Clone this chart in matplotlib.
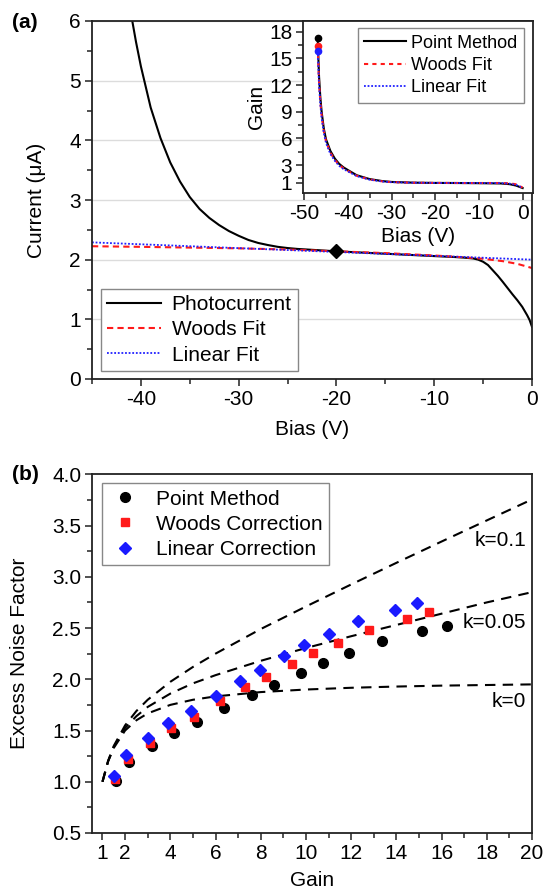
import numpy as np
import matplotlib
matplotlib.use('Agg')
import matplotlib.pyplot as plt
from matplotlib.ticker import MultipleLocator, FixedLocator, FormatStrFormatter

plt.rcParams['font.family'] = ['Liberation Sans', 'DejaVu Sans']
plt.rcParams['font.size'] = 15
plt.rcParams['axes.unicode_minus'] = False

# (a) photocurrent vs bias
bias_photo = [-41.0, -40.5, -40.0, -39.0, -38.0, -37.0, -36.0, -35.0, -34.0, -33.0, -32.0,
              -31.0, -30.0, -29.0, -28.0, -27.0, -26.0, -25.0, -24.0, -22.0, -20.0, -17.5,
              -15.0, -12.5, -10.0, -8.0, -7.0, -6.0, -5.5, -5.0, -4.5, -4.0, -3.5, -3.0,
              -2.5, -2.0, -1.5, -1.0, -0.5, -0.25, 0.0]
photocurrent = [6.11, 5.65, 5.24, 4.55, 4.04, 3.63, 3.31, 3.05, 2.85, 2.70, 2.58,
                2.48, 2.40, 2.33, 2.28, 2.245, 2.215, 2.195, 2.18, 2.16, 2.14, 2.12,
                2.10, 2.08, 2.06, 2.045, 2.035, 2.02, 2.00, 1.965, 1.91, 1.82, 1.73, 1.63,
                1.525, 1.42, 1.32, 1.21, 1.07, 0.99, 0.875]
bias_woods = [-45, -40, -30, -25, -20, -15, -10, -7, -5, -3, -1.5, 0]
woods_fit = [2.225, 2.215, 2.19, 2.17, 2.14, 2.11, 2.07, 2.04, 2.015, 1.975, 1.93, 1.86]
bias_linear = [-45, 0]
linear_fit = [2.29, 2.0]
ref_bias, ref_current = -20, 2.14

# inset: gain vs bias
bias_gain = [-46.9, -46.6, -46.3, -46.0, -45.5, -45.0, -44.0, -43.0, -42.0, -41.0, -40.0, -38.0,
             -35.0, -32.0, -30.0, -25.0, -20.0, -15.0, -10.0, -5.0, -3.0, -1.5, 0.0]
gain_point = [17.25, 13.0, 10.6, 9.0, 7.1, 5.9, 4.6, 3.75, 3.15, 2.75, 2.45, 1.87,
              1.43, 1.2, 1.11, 1.03, 1.0, 0.99, 0.97, 0.94, 0.86, 0.7, 0.42]
gain_woods = [16.4, 12.4, 10.1, 8.6, 6.8, 5.65, 4.4, 3.6, 3.02, 2.64, 2.36, 1.81,
              1.39, 1.17, 1.09, 1.02, 1.0, 0.99, 0.99, 0.99, 0.95, 0.85, 0.47]
gain_linear = [15.86, 12.0, 9.8, 8.3, 6.6, 5.5, 4.25, 3.5, 2.93, 2.56, 2.29, 1.77,
               1.36, 1.15, 1.08, 1.02, 1.0, 1.0, 0.99, 0.98, 0.92, 0.78, 0.44]

# (b) excess noise factor vs gain
gain_pm = [1.59, 2.18, 3.20, 4.17, 5.20, 6.39, 7.62, 8.58, 9.77, 10.76, 11.92, 13.37, 15.15, 16.25]
enf_pm = [1.01, 1.195, 1.347, 1.471, 1.584, 1.72, 1.85, 1.942, 2.065, 2.158, 2.256, 2.37, 2.47, 2.518]
gain_wc = [1.55, 2.11, 3.10, 4.05, 5.03, 6.18, 7.32, 8.25, 9.39, 10.31, 11.41, 12.78, 14.46, 15.44]
enf_wc = [1.03, 1.22, 1.38, 1.52, 1.63, 1.785, 1.922, 2.02, 2.15, 2.256, 2.357, 2.477, 2.584, 2.652]
gain_lc = [1.50, 2.04, 3.0, 3.89, 4.92, 6.01, 7.10, 7.97, 9.04, 9.90, 11.03, 12.31, 13.93, 14.91]
enf_lc = [1.058, 1.26, 1.428, 1.571, 1.69, 1.84, 1.983, 2.09, 2.226, 2.333, 2.444, 2.567, 2.678, 2.749]

gain_k = [1, 1.25, 1.5, 2, 2.5, 3, 4, 5, 6, 8, 10, 12, 14, 16, 18, 20]
enf_k0 = [1.0, 1.2, 1.33, 1.5, 1.6, 1.667, 1.75, 1.8, 1.833, 1.875, 1.9, 1.917, 1.929, 1.938, 1.944, 1.95]
enf_k005 = [1.0, 1.2, 1.34, 1.525, 1.64, 1.73, 1.86, 1.96, 2.04, 2.18, 2.305, 2.42, 2.53, 2.64, 2.75, 2.85]
enf_k01 = [1.0, 1.205, 1.35, 1.55, 1.69, 1.8, 1.975, 2.12, 2.25, 2.49, 2.71, 2.925, 3.136, 3.344, 3.55, 3.755]
k_labels = ['k=0.1', 'k=0.05', 'k=0']
k_label_y = [3.35, 2.55, 1.78]

W, H = 546, 890
spine_col = '#222222'


def ax_rect(left, top, right, bottom):
    return [left / W, 1 - bottom / H, (right - left) / W, (bottom - top) / H]


def style(ax):
    for s in ax.spines.values():
        s.set_color(spine_col)
        s.set_linewidth(1.3)
    ax.tick_params(which='both', direction='out', top=False, right=False,
                   color=spine_col, width=1.1, labelsize=15, pad=3)
    ax.tick_params(which='major', length=5)
    ax.tick_params(which='minor', length=3.5)


fig = plt.figure(figsize=(W / 100, H / 100), dpi=100)

# ---- panel (a)
ax = fig.add_axes(ax_rect(92, 21, 532, 379))
style(ax)
ax.yaxis.grid(True, color='#dcdcdc', linewidth=1)
ax.set_axisbelow(True)
l1, = ax.plot(bias_photo, photocurrent, color='black', lw=1.5, label='Photocurrent')
l2, = ax.plot(bias_woods, woods_fit, color='#ff1a1a', lw=1.5, ls=(0, (3, 2)), label='Woods Fit')
l3, = ax.plot(bias_linear, linear_fit, color='#2020ff', lw=1.3, ls=(0, (1, 1)), label='Linear Fit')
ax.plot([ref_bias], [ref_current], marker='D', color='black', ms=7, ls='none')
ax.set_xlim(-45, 0)
ax.set_ylim(0, 6)
ax.xaxis.set_major_locator(MultipleLocator(10))
ax.xaxis.set_minor_locator(MultipleLocator(5))
ax.yaxis.set_major_locator(MultipleLocator(1))
ax.yaxis.set_minor_locator(MultipleLocator(0.5))
ax.set_xlabel('Bias (V)', fontsize=15, labelpad=8)
ax.set_ylabel('Current (μA)', fontsize=15)
ax.yaxis.set_label_coords(-0.105, 0.5)
leg = ax.legend(handles=[l1, l2, l3], loc='lower left', bbox_to_anchor=(0.02, 0.023),
                borderaxespad=0, fancybox=False, edgecolor='#888888', framealpha=1,
                fontsize=15, handlelength=2.6, handletextpad=0.5, labelspacing=0.3,
                borderpad=0.3)
leg.get_frame().set_linewidth(1.0)
fig.text(12 / W, 1 - 23 / H, '(a)', fontsize=15, fontweight='bold', va='center', ha='left')

# inset
axi = fig.add_axes(ax_rect(303.3, 20.7, 532.7, 192.7))
style(axi)
axi.plot(bias_gain, gain_point, color='black', lw=1.5, label='Point Method')
axi.plot(bias_gain, gain_woods, color='#ff1a1a', lw=1.5, ls=(0, (2, 2)), label='Woods Fit')
axi.plot(bias_gain, gain_linear, color='#2020ff', lw=1.3, ls=(0, (1, 1)), label='Linear Fit')
axi.plot([bias_gain[0]], [gain_point[0]], 'o', color='black', ms=4.5)
axi.plot([bias_gain[0]], [gain_woods[0]], 'o', color='#ff1a1a', ms=4.5)
axi.plot([bias_gain[0]], [gain_linear[0]], 'o', color='#2020ff', ms=4.5)
axi.set_xlim(-50.2, 2.3)
axi.set_ylim(-0.1, 19.25)
axi.xaxis.set_major_locator(MultipleLocator(10))
axi.xaxis.set_minor_locator(MultipleLocator(5))
axi.yaxis.set_major_locator(FixedLocator([1, 3, 6, 9, 12, 15, 18]))
axi.yaxis.set_minor_locator(FixedLocator(np.arange(1.5, 19, 1.5)))
axi.set_xlabel('Bias (V)', fontsize=15, labelpad=3)
axi.set_ylabel('Gain', fontsize=15, labelpad=2)
legi = axi.legend(loc='upper right', bbox_to_anchor=(0.962, 0.956), borderaxespad=0,
                  fancybox=False, edgecolor='#888888', framealpha=1, fontsize=13,
                  handlelength=2.3, handletextpad=0.3, labelspacing=0.3, borderpad=0.35)
legi.get_frame().set_linewidth(1.0)

# ---- panel (b)
bx = fig.add_axes(ax_rect(92.3, 474.3, 532, 833))
style(bx)
bx.plot(gain_k, enf_k01, color='black', lw=1.5, ls=(0, (5, 3.5)))
bx.plot(gain_k, enf_k005, color='black', lw=1.5, ls=(0, (5, 3.5)))
bx.plot(gain_k, enf_k0, color='black', lw=1.5, ls=(0, (5, 3.5)))
bx.plot(gain_pm, enf_pm, 'o', color='black', ms=7, label='Point Method')
bx.plot(gain_wc, enf_wc, 's', color='#ff1a1a', ms=6, label='Woods Correction')
bx.plot(gain_lc, enf_lc, 'D', color='#1a1aff', ms=6.5, label='Linear Correction')
for lab, yy in zip(k_labels, k_label_y):
    bx.text(19.75, yy, lab, fontsize=15, ha='right', va='center')
bx.set_xlim(0.55, 20)
bx.set_ylim(0.5, 4.0)
bx.xaxis.set_major_locator(FixedLocator([1, 2, 4, 6, 8, 10, 12, 14, 16, 18, 20]))
bx.xaxis.set_minor_locator(FixedLocator([3, 5, 7, 9, 11, 13, 15, 17, 19]))
bx.yaxis.set_major_locator(MultipleLocator(0.5))
bx.yaxis.set_minor_locator(MultipleLocator(0.25))
bx.yaxis.set_major_formatter(FormatStrFormatter('%.1f'))
bx.set_xlabel('Gain', fontsize=15, labelpad=6)
bx.set_ylabel('Excess Noise Factor', fontsize=15)
bx.yaxis.set_label_coords(-0.144, 0.5)
legb = bx.legend(loc='upper left', bbox_to_anchor=(0.022, 0.975), borderaxespad=0,
                 fancybox=False, edgecolor='#888888', framealpha=1, fontsize=15,
                 handlelength=1.6, handletextpad=0.7, labelspacing=0.3, borderpad=0.3)
legb.get_frame().set_linewidth(1.0)
fig.text(12 / W, 1 - 474 / H, '(b)', fontsize=15, fontweight='bold', va='center', ha='left')

fig.savefig('out.png', dpi=100)
